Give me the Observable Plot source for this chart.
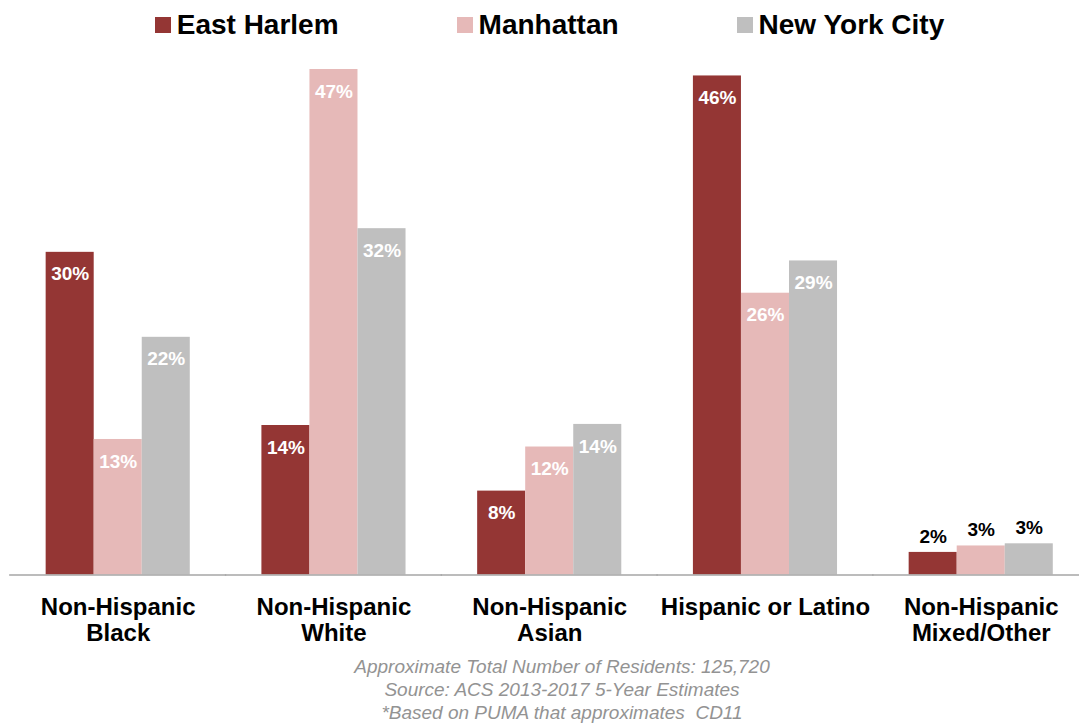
<!DOCTYPE html>
<html><head><meta charset="utf-8">
<script src="https://cdn.jsdelivr.net/npm/d3@7"></script>
<script src="https://cdn.jsdelivr.net/npm/@observablehq/plot@0.6"></script>
<style>
html,body{margin:0;padding:0;background:#fff;font-family:"Liberation Sans",Arial,sans-serif;}
#legend{height:50px;display:flex;align-items:center;justify-content:center;gap:118px;padding-left:20px;box-sizing:border-box;}
.item{display:flex;align-items:center;font-weight:bold;font-size:28px;color:#000;line-height:1;}
.sw{width:16px;height:16px;margin-right:6px;}
#chart svg{display:block;}
#footer{text-align:center;padding-left:45px;padding-top:5px;color:#939393;font-style:italic;font-size:19px;line-height:23px;}
</style></head><body>
<div id="legend"></div>
<div id="chart"></div>
<div id="footer"></div>
<script>
const categories = ["Non-Hispanic Black", "Non-Hispanic White", "Non-Hispanic Asian", "Hispanic or Latino", "Non-Hispanic Mixed/Other"];
const categoryLabels = ["Non-Hispanic\nBlack", "Non-Hispanic\nWhite", "Non-Hispanic\nAsian", "Hispanic or Latino", "Non-Hispanic\nMixed/Other"];
const series = ["East Harlem", "Manhattan", "New York City"];
const seriesColors = ["#943634", "#E6B9B8", "#BFBFBF"];
const eastHarlem = [30.0, 13.9, 7.8, 46.4, 2.1];
const manhattan = [12.6, 47.0, 11.9, 26.2, 2.7];
const newYorkCity = [22.1, 32.2, 14.0, 29.2, 2.9];
const footerLines = ["Approximate Total Number of Residents: 125,720", "Source: ACS 2013-2017 5-Year Estimates", "*Based on PUMA that approximates  CD11"];
const outsideLabelCategory = "Non-Hispanic Mixed/Other";

const seriesValues = [eastHarlem, manhattan, newYorkCity];
const data = [];
categories.forEach((c, i) => {
  series.forEach((s, j) => data.push({category: c, series: s, value: seriesValues[j][i]}));
});

// legend
const legend = document.getElementById("legend");
series.forEach((s, j) => {
  const it = document.createElement("div"); it.className = "item";
  const sw = document.createElement("span"); sw.className = "sw"; sw.style.background = seriesColors[j];
  const tx = document.createElement("span"); tx.textContent = s;
  it.appendChild(sw); it.appendChild(tx); legend.appendChild(it);
});

const chart = Plot.plot({
  width: 1079,
  height: 600,
  marginTop: 19,
  marginBottom: 75.5,
  marginLeft: 9,
  marginRight: 0,
  style: {fontFamily: "Liberation Sans, Arial, sans-serif", background: "#fff", overflow: "visible"},
  fx: {domain: categories, paddingInner: 0.332, paddingOuter: 0.1457, align: 0.583, round: false, axis: null},
  x: {domain: series, padding: 0, round: false, axis: null},
  y: {domain: [0, 47], axis: null},
  color: {domain: series, range: seriesColors},
  marks: [
    Plot.barY(data, {fx: "category", x: "series", y: "value", fill: "series"}),
    Plot.ruleY(categories.map(c => ({category: c, v: 0})), {fx: "category", y: "v", insetLeft: -36.5, insetRight: -36.5, stroke: "#a6a6a6", strokeWidth: 1.5}),
    Plot.text(data.filter(d => d.category !== outsideLabelCategory), {
      fx: "category", x: "series", y: "value", text: d => Math.round(d.value) + "%",
      dy: 22, fill: "#fff", fontWeight: "bold", fontSize: 19
    }),
    Plot.text(data.filter(d => d.category === outsideLabelCategory), {
      fx: "category", x: "series", y: "value", text: d => Math.round(d.value) + "%",
      dy: -16, fill: "#000", fontWeight: "bold", fontSize: 19
    }),
    Plot.text(categories, {
      fx: d => d, text: (d, i) => categoryLabels[i], frameAnchor: "bottom", lineAnchor: "top",
      dy: 21, fontSize: 24, fontWeight: "bold", lineHeight: 1.1, fill: "#000"
    })
  ]
});
document.getElementById("chart").appendChild(chart);

const footer = document.getElementById("footer");
footerLines.forEach(l => { const d = document.createElement("div"); d.textContent = l; d.style.whiteSpace = "pre"; footer.appendChild(d); });
</script>
</body></html>
